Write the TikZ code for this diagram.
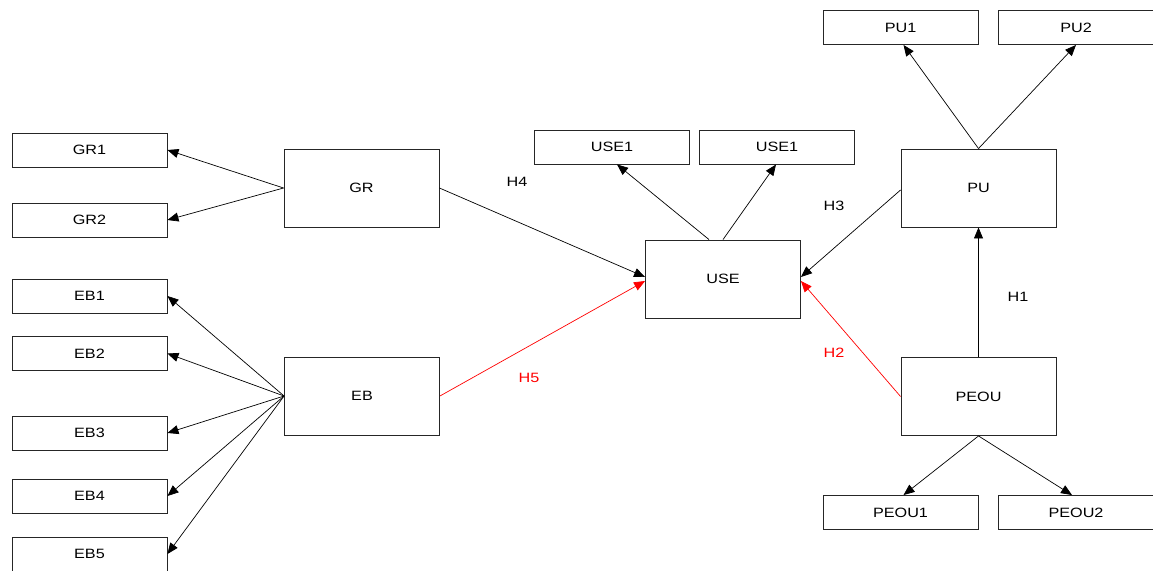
\documentclass[tikz,border=0pt]{standalone}
\usepackage{fontspec}
\setmainfont[FakeStretch=1.2]{Liberation Sans}
\usetikzlibrary{arrows.meta}
\begin{document}
\begin{tikzpicture}[x=1pt,y=-1pt,
  box/.style={draw=black!85,line width=0.9pt,minimum width=155pt,minimum height=34pt,inner sep=0pt,font=\fontsize{13.5}{15}\selectfont},
  bigbox/.style={box,minimum height=78pt},
  arr/.style={draw=black,line width=0.7pt,-{Triangle[length=11pt,width=9pt]}},
  redarr/.style={arr,draw=red,-{Triangle[length=11pt,width=9pt,fill=red]}},
  lab/.style={font=\fontsize{13.5}{15}\selectfont}]
\useasboundingbox (0,0) rectangle (1153,570);
% left column
\node[box] (gr1) at (89.5,150) {GR1};
\node[box] (gr2) at (89.5,220) {GR2};
\node[box] (eb1) at (89.5,296) {EB1};
\node[box] (eb2) at (89.5,353.5) {EB2};
\node[box] (eb3) at (89.5,433) {EB3};
\node[box] (eb4) at (89.5,496) {EB4};
\node[box] (eb5) at (89.5,554) {EB5};
\node[bigbox] (gr) at (361.5,188) {GR};
\node[bigbox] (eb) at (362,396) {EB};
% middle
\node[box] (usea) at (612,147) {USE1};
\node[box] (useb) at (777,147) {USE1};
\node[bigbox] (use) at (723,279) {USE};
% right
\node[box] (pu1) at (900.5,27.5) {PU1};
\node[box] (pu2) at (1076,27.5) {PU2};
\node[bigbox] (pu) at (978.5,188) {PU};
\node[bigbox] (peou) at (978.5,396.5) {PEOU};
\node[box] (peou1) at (900.5,512.5) {PEOU1};
\node[box] (peou2) at (1076,512.5) {PEOU2};
% connectors
\draw[arr] (gr.west) -- (gr1.east);
\draw[arr] (gr.west) -- (gr2.east);
\foreach \e in {eb1,eb2,eb3,eb4,eb5} \draw[arr] (eb.west) -- (\e.east);
\draw[arr] ([xshift=-14pt]use.north) -- ([xshift=5pt]usea.south);
\draw[arr] (use.north) -- ([xshift=-1pt]useb.south);
\draw[arr] (pu.north) -- ([xshift=3pt]pu1.south);
\draw[arr] (pu.north) -- (pu2.south);
\draw[arr] (peou.south) -- ([xshift=3pt]peou1.north);
\draw[arr] (peou.south) -- ([xshift=-4pt]peou2.north);
\draw[arr] (peou.north) -- (pu.south);
\draw[arr] (gr.east) -- ([yshift=2pt]use.west);
\draw[redarr] (eb.east) -- ([yshift=-2pt]use.west);
\draw[arr] ([yshift=-2pt]pu.west) -- ([yshift=2pt]use.east);
\draw[redarr] (peou.west) -- ([yshift=-2pt]use.east);
% labels
\node[lab] (h4) at (517,182) {H4};
\node[lab,text=red] (h5) at (529,378) {H5};
\node[lab] (h3) at (834,206) {H3};
\node[lab,text=red] (h2) at (834,353) {H2};
\node[lab] (h1) at (1018,297) {H1};
\end{tikzpicture}
\end{document}
